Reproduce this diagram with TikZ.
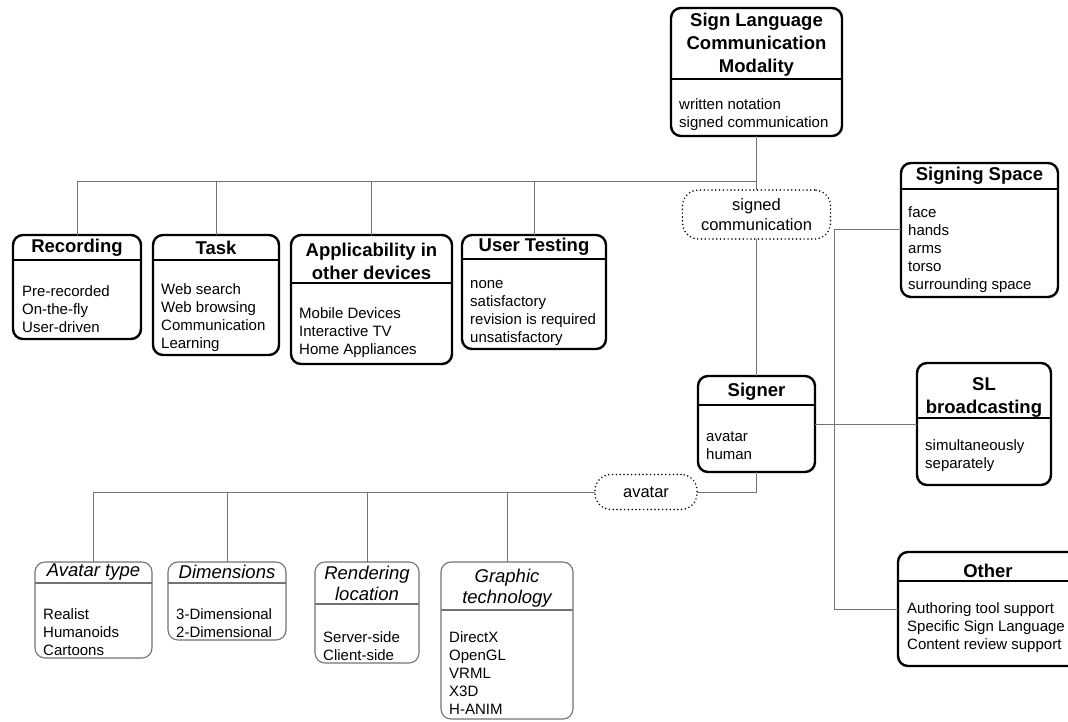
\documentclass[tikz,border=0pt]{standalone}
\usepackage{fontspec}
\setmainfont{Liberation Sans}
\begin{document}
\begin{tikzpicture}[x=1pt,y=-1pt,
  mainbox/.style={draw=black, line width=2.4pt, rounded corners=10pt, inner sep=0pt, outer sep=0pt},
  mainboxline/.style={draw=black, line width=1.4pt},
  subbox/.style={draw=black!55, line width=1.1pt, rounded corners=10pt, inner sep=0pt, outer sep=0pt},
  subboxline/.style={draw=black!55, line width=1.1pt},
  maintitle/.style={inner sep=0pt, align=center, font=\fontsize{18.5}{23}\selectfont\bfseries},
  subtitle/.style={inner sep=0pt, align=center, font=\fontsize{18.5}{21.5}\selectfont\itshape},
  items/.style={inner sep=0pt, anchor=west, align=left, font=\fontsize{15}{18}\selectfont},
  valbox/.style={draw=black, line width=1.7pt, dash pattern=on 0pt off 3.8pt, line cap=round, inner sep=0pt, outer sep=0pt, align=center, font=\fontsize{16.5}{19.5}\selectfont},
  conn/.style={draw=black!55, line width=1pt}
]
\useasboundingbox (0,0) rectangle (1068,721);
\clip (0,0) rectangle (1068,721);
\fill[white] (0,0) rectangle (1068,721);

\newcommand{\mkbox}[7]{%
  \node[#2, minimum width={#5-#3}, minimum height={#6-#4}] (#1) at ({(#3+#5)/2},{(#4+#6)/2}) {};
  \draw[#2line] (#1.west |- 0,#7) -- (#1.east |- 0,#7);
}

% ---------- main boxes ----------
\mkbox{top}{mainbox}{671}{8}{842}{136}{79}
\node[maintitle] (top-t) at (top.north |- 0,45) {Sign Language\\Communication\\Modality};
\node[items] (top-i) at ([xshift=8pt]top.west |- 0,115) {written notation\\signed communication};

\mkbox{rec}{mainbox}{13}{235}{141}{339}{260}
\node[maintitle] (rec-t) at (rec.north |- 0,248) {Recording};
\node[items] (rec-i) at ([xshift=9pt]rec.west |- 0,309) {Pre-recorded\\On-the-fly\\User-driven};

\mkbox{task}{mainbox}{153}{235}{279}{355}{260}
\node[maintitle] (task-t) at (task.north |- 0,248) {Task};
\node[items] (task-i) at ([xshift=8pt]task.west |- 0,317.5) {Web search\\Web browsing\\Communication\\Learning};

\mkbox{app}{mainbox}{291}{235}{452}{364}{283}
\node[maintitle] (app-t) at (app.north |- 0,261.5) {Applicability in\\other devices};
\node[items] (app-i) at ([xshift=8pt]app.west |- 0,333) {Mobile Devices\\Interactive TV\\Home Appliances};

\mkbox{ut}{mainbox}{462}{235}{606}{349}{259}
\node[maintitle] (ut-t) at (ut.north |- 0,247) {User Testing};
\node[items] (ut-i) at ([xshift=8pt]ut.west |- 0,313) {none\\satisfactory\\revision is required\\unsatisfactory};

\mkbox{ss}{mainbox}{901}{163}{1058}{297}{189}
\node[maintitle] (ss-t) at (ss.north |- 0,176) {Signing Space};
\node[items] (ss-i) at ([xshift=7pt]ss.west |- 0,250) {face\\hands\\arms\\torso\\surrounding space};

\mkbox{signer}{mainbox}{698}{376}{815}{472}{405}
\node[maintitle] (signer-t) at (signer.north |- 0,392) {Signer};
\node[items] (signer-i) at ([xshift=8pt]signer.west |- 0,446) {avatar\\human};

\mkbox{slb}{mainbox}{917}{363}{1051}{485}{418}
\node[maintitle] (slb-t) at (slb.north |- 0,397.5) {SL\\broadcasting};
\node[items] (slb-i) at ([xshift=8pt]slb.west |- 0,455.5) {simultaneously\\separately};

\mkbox{oth}{mainbox}{898}{552}{1078}{666}{581}
\node[maintitle] (oth-t) at (oth.north |- 0,571) {Other};
\node[items] (oth-i) at ([xshift=9pt]oth.west |- 0,628) {Authoring tool support\\Specific Sign Language\\Content review support};

% ---------- sub boxes ----------
\mkbox{avt}{subbox}{35}{562}{152}{658}{583}
\node[subtitle] (avt-t) at (avt.north |- 0,572) {Avatar type};
\node[items] (avt-i) at ([xshift=8pt]avt.west |- 0,632) {Realist\\Humanoids\\Cartoons};

\mkbox{dim}{subbox}{168}{562}{286}{640}{583}
\node[subtitle] (dim-t) at (dim.north |- 0,572) {Dimensions};
\node[items] (dim-i) at ([xshift=8pt]dim.west |- 0,623) {3-Dimensional\\2-Dimensional};

\mkbox{rl}{subbox}{315}{562}{419}{663}{604}
\node[subtitle] (rl-t) at (rl.north |- 0,583.5) {Rendering\\location};
\node[items] (rl-i) at ([xshift=8pt]rl.west |- 0,646) {Server-side\\Client-side};

\mkbox{gt}{subbox}{441}{562}{573}{719}{610}
\node[subtitle] (gt-t) at (gt.north |- 0,588) {Graphic\\technology};
\node[items] (gt-i) at ([xshift=8pt]gt.west |- 0,673) {DirectX\\OpenGL\\VRML\\X3D\\H-ANIM};

% ---------- value boxes ----------
\node[valbox, rounded corners=16pt, minimum width=148pt, minimum height=49pt] (sc) at (756.5,214.5) {signed\\communication};
\node[valbox, rounded corners=16pt, minimum width=102pt, minimum height=35pt] (av) at (646,492) {avatar};

% ---------- connectors ----------
\coordinate (hub1) at (top.south |- 0,181);
\draw[conn] (top.south) -- (sc.north);
\draw[conn] (rec.north) |- (hub1);
\draw[conn] (task.north) -- (task.north |- hub1);
\draw[conn] (app.north) -- (app.north |- hub1);
\draw[conn] (ut.north) -- (ut.north |- hub1);

\draw[conn] (sc.south) -- (signer.north);
\coordinate (hub2) at (834,229);
\draw[conn] (hub2) -- (ss.west |- hub2);
\draw[conn] (hub2) |- (oth.west);
\draw[conn] (signer.east) -- (slb.west |- signer.east);

\draw[conn] (signer.south) |- (av.east);
\draw[conn] (av.west) -| (avt.north);
\draw[conn] (dim.north) -- (dim.north |- av.west);
\draw[conn] (rl.north) -- (rl.north |- av.west);
\draw[conn] (gt.north) -- (gt.north |- av.west);
\end{tikzpicture}
\end{document}
